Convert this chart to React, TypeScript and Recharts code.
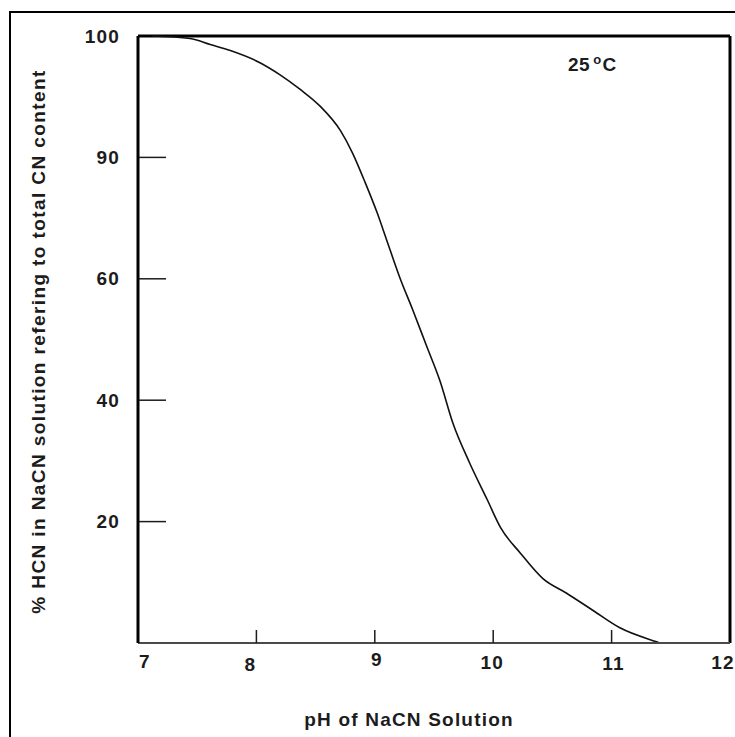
import { Line, LineChart, ReferenceLine, XAxis, YAxis } from "recharts";

// pH values along the curve and the HCN share read at each point (%)
const phValues = [7.12, 7.44, 7.61, 7.78, 8.03, 8.2, 8.37, 8.54, 8.71, 8.81, 8.92, 9.02, 9.1, 9.21, 9.32, 9.44, 9.55, 9.66, 9.8, 9.95, 10.06, 10.23, 10.42, 10.62, 10.84, 11.07, 11.38, 11.41];
const hcnPercent = [100, 99.8, 99.3, 98.8, 97.8, 96.8, 95.6, 94.2, 92.2, 90.4, 83.7, 76.3, 69.6, 60.4, 54.9, 48.8, 43.2, 36.2, 29.7, 23.6, 19.1, 14.8, 10.6, 8.2, 5.4, 2.5, 0.2, 0];

// the y axis is drawn with evenly spaced ticks that carry uneven values
const yTickValues = [0, 20, 40, 60, 90, 100];
const yTickLabels = ["", "20", "40", "60", "90", "100"];
const xTicks = [7, 8, 9, 10, 11, 12];

// small nudges of the x labels, as placed in the original figure
const xLabelNudge: Record<number, [number, number]> = { 7: [7, -1], 8: [-6, 2], 9: [2, -3], 10: [-1, 0], 11: [2, 1], 12: [-7, 0] };

const toPos = (p: number) => {
  for (let i = 0; i < yTickValues.length - 1; i++) {
    const a = yTickValues[i], b = yTickValues[i + 1];
    if (p <= b) return i + (p - a) / (b - a);
  }
  return yTickValues.length - 1;
};

const data = phValues.map((ph, i) => ({ ph, pos: toPos(hcnPercent[i]) }));

const INK = "#1c1c1c";
const FONT = { fontFamily: '"Liberation Sans", Arial, sans-serif', fontWeight: 700, fontSize: 19, letterSpacing: 1.2 };
const Y_MARGIN = 18;
const X_MARGIN = 13;
const TOP = yTickValues.length - 1;

const YTick = (props: any) => {
  const { x, y, payload } = props;
  const v = payload.value as number;
  const ax = x + Y_MARGIN;
  return (
    <g>
      {v > 0 && v < TOP && <line x1={ax + 1} x2={ax + 28} y1={y} y2={y} stroke={INK} strokeWidth={1.5} />}
      <text x={x} y={y} textAnchor="end" dominantBaseline="central" fill={INK} style={FONT}>{yTickLabels[v]}</text>
    </g>
  );
};

const XTick = (props: any) => {
  const { x, y, payload } = props;
  const v = payload.value as number;
  const [dx, dy] = xLabelNudge[v] ?? [0, 0];
  const ay = y - X_MARGIN;
  return (
    <g>
      {v > xTicks[0] && v < xTicks[xTicks.length - 1] && <line x1={x} x2={x} y1={ay} y2={ay - 13} stroke={INK} strokeWidth={1.5} />}
      <text x={x + dx} y={y + dy} dy="0.71em" textAnchor="middle" fill={INK} style={FONT}>{v}</text>
    </g>
  );
};

export default function App() {
  return (
    <div style={{ position: "absolute", left: 0, top: 0, width: 735, height: 737, overflow: "hidden", background: "#fff" }}>
      <div style={{ position: "absolute", left: 9, top: 11, width: 800, height: 800, border: "2px solid #000" }} />
      <div style={{ position: "absolute", left: 568, top: 52, color: INK, ...FONT, letterSpacing: 0.5 }}>
        25<sup style={{ fontSize: 13, marginLeft: 3, marginRight: 1 }}>o</sup>C
      </div>
      <LineChart width={735} height={737} data={data} margin={{ top: 36, right: 5, bottom: 64, left: 78 }} style={{ position: "absolute", left: 0, top: 0 }}>
        <XAxis
          type="number"
          dataKey="ph"
          domain={[7, 12]}
          ticks={xTicks}
          interval={0}
          height={30}
          tickSize={0}
          tickMargin={X_MARGIN}
          tickLine={false}
          axisLine={{ stroke: "#4a4a4a", strokeWidth: 2 }}
          tick={(p: any) => <XTick {...p} />}
          label={{
            content: (lp: any) => (
              <text x={lp.viewBox.x + lp.viewBox.width / 2 - 25} y={lp.viewBox.y + 76} textAnchor="middle" dominantBaseline="central" fill={INK} style={FONT}>
                pH of NaCN Solution
              </text>
            ),
          }}
        />
        <YAxis
          type="number"
          dataKey="pos"
          domain={[0, TOP]}
          ticks={yTickValues.map((_, i) => i)}
          interval={0}
          width={60}
          tickSize={0}
          tickMargin={Y_MARGIN}
          tickLine={false}
          axisLine={{ stroke: "#000", strokeWidth: 3 }}
          tick={(p: any) => <YTick {...p} />}
          label={{
            content: (lp: any) => {
              const cx = lp.viewBox.x - 40;
              const cy = lp.viewBox.y + lp.viewBox.height / 2 + 2;
              return (
                <text x={cx} y={cy} transform={`rotate(-90 ${cx} ${cy})`} textAnchor="middle" dominantBaseline="central" fill={INK} style={{ ...FONT, letterSpacing: 1.4 }}>
                  % HCN in NaCN solution refering to total CN content
                </text>
              );
            },
          }}
        />
        <ReferenceLine y={TOP} stroke="#000" strokeWidth={3} />
        <ReferenceLine x={12} stroke="#000" strokeWidth={3} />
        <Line type="monotone" dataKey="pos" stroke="#111" strokeWidth={1.6} dot={false} isAnimationActive={false} />
      </LineChart>
    </div>
  );
}
